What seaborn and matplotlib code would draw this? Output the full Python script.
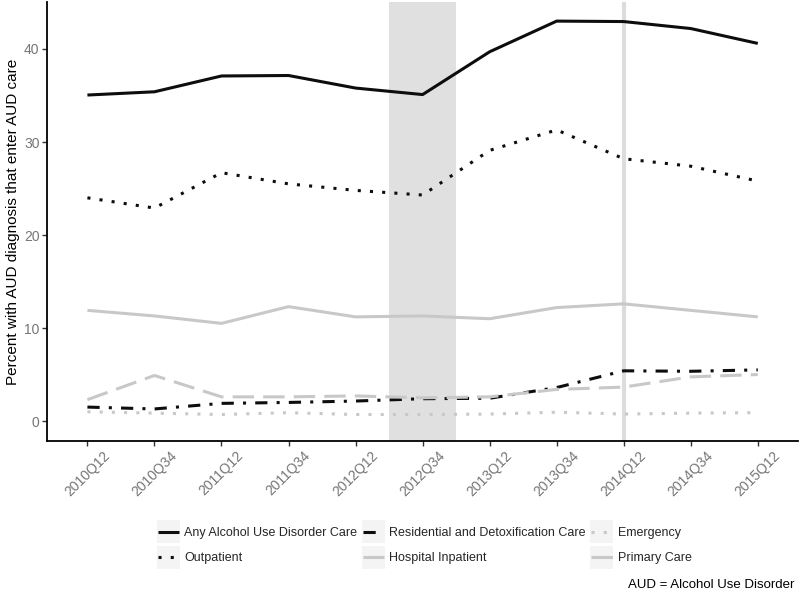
import numpy as np
import pandas as pd
import matplotlib
matplotlib.use("Agg")
import matplotlib.pyplot as plt
from matplotlib.patches import Rectangle
import seaborn as sns

quarters = ["2010Q12", "2010Q34", "2011Q12", "2011Q34", "2012Q12", "2012Q34",
            "2013Q12", "2013Q34", "2014Q12", "2014Q34", "2015Q12"]

any_aud = [35.05, 35.4, 37.1, 37.15, 35.8, 35.1, 39.7, 43.0, 42.95, 42.2, 40.6]
outpatient = [24.0, 22.9, 26.7, 25.5, 24.8, 24.3, 29.1, 31.3, 28.2, 27.4, 25.8]
residential = [1.5, 1.3, 1.9, 2.0, 2.15, 2.4, 2.45, 3.6, 5.4, 5.35, 5.5]
inpatient = [11.9, 11.3, 10.5, 12.3, 11.2, 11.3, 11.0, 12.2, 12.6, 11.9, 11.2]
emergency = [1.0, 0.85, 0.7, 0.9, 0.7, 0.7, 0.75, 0.95, 0.75, 0.85, 0.9]
primary = [2.3, 4.9, 2.6, 2.6, 2.7, 2.5, 2.6, 3.4, 3.65, 4.75, 5.0]

series_names = ["Any Alcohol Use Disorder Care", "Outpatient",
                "Residential and Detoxification Care", "Hospital Inpatient",
                "Emergency", "Primary Care"]
series_values = [any_aud, outpatient, residential, inpatient, emergency, primary]

shade_quarter = "2012Q34"
vline_quarter = "2014Q12"

rows = []
for name, vals in zip(series_names, series_values):
    for i, (q, v) in enumerate(zip(quarters, vals)):
        rows.append({"pos": i, "quarter": q, "value": v, "series": name})
df = pd.DataFrame(rows)

sns.set_theme(style="white")
plt.rcParams["font.family"] = ["Liberation Sans", "DejaVu Sans"]

palette = {
    "Any Alcohol Use Disorder Care": "#0d0d0d",
    "Outpatient": "#0d0d0d",
    "Residential and Detoxification Care": "#0d0d0d",
    "Hospital Inpatient": "#c8c8c8",
    "Emergency": "#c8c8c8",
    "Primary Care": "#c8c8c8",
}
dashes = {
    "Any Alcohol Use Disorder Care": "",
    "Outpatient": (1, 3),
    "Residential and Detoxification Care": (4, 3, 1, 3),
    "Hospital Inpatient": "",
    "Emergency": (1, 3),
    "Primary Care": (7, 3),
}

fig = plt.figure(figsize=(8.0, 5.96), dpi=100)
ax = fig.add_axes([0.059, 0.26, 0.9385, 0.7366])

si = quarters.index(shade_quarter)
ax.axvspan(si - 0.5, si + 0.5, color="#e0e0e0", lw=0, zorder=0)
vi = quarters.index(vline_quarter)
ax.axvline(vi, color="#dcdcdc", lw=3, zorder=0.5)

sns.lineplot(data=df, x="pos", y="value", hue="series", style="series",
             hue_order=series_names, style_order=series_names,
             palette=palette, dashes=dashes, lw=2.2, ax=ax, legend=True,
             sort=False)
for ln in ax.lines:
    ln.set_dash_capstyle("butt")
    ln.set_solid_capstyle("butt")

ax.set_xlim(-0.6, len(quarters) - 1 + 0.6)
ax.set_ylim(-2.15, 45.05)
ax.set_xticks(range(len(quarters)))
ax.set_xticklabels(quarters, rotation=45, ha="center", va="top",
                   fontsize=10, color="#757575")
ax.set_yticks([0, 10, 20, 30, 40])
ax.set_yticklabels(["0", "10", "20", "30", "40"], fontsize=10, color="#757575")
ax.tick_params(axis="both", which="both", length=3.5, width=1, color="#333333",
               bottom=True, left=True, pad=2)
ax.set_xlabel("")
ax.set_ylabel("Percent with AUD diagnosis that enter AUD care", fontsize=11,
              color="#000000", labelpad=3)
for s in ["top", "right"]:
    ax.spines[s].set_visible(False)
for s in ["left", "bottom"]:
    ax.spines[s].set_color("#000000")
    ax.spines[s].set_linewidth(1.3)

handles, labels = ax.get_legend_handles_labels()
ax.get_legend().remove()
leg = fig.legend(handles, labels, loc="center", ncol=3,
                 bbox_to_anchor=(0.531, 0.084), frameon=False, fontsize=9,
                 handlelength=1.7, columnspacing=0.45, handletextpad=0.4,
                 labelspacing=1.05)
fig.text(0.993, 0.008, "AUD = Alcohol Use Disorder", ha="right", va="bottom",
         fontsize=9.5, color="#000000")

# light grey key backgrounds, like ggplot legend keys
fig.canvas.draw()
renderer = fig.canvas.get_renderer()
for h in leg.legend_handles:
    bb = h.get_window_extent(renderer)
    cx = (bb.x0 + bb.x1) / 2
    cy = (bb.y0 + bb.y1) / 2
    w = 23
    x0, y0 = fig.transFigure.inverted().transform((cx - w / 2, cy - w / 2))
    x1, y1 = fig.transFigure.inverted().transform((cx + w / 2, cy + w / 2))
    fig.patches.append(Rectangle((x0, y0), x1 - x0, y1 - y0,
                                 transform=fig.transFigure, facecolor="#f4f4f4",
                                 edgecolor="none", zorder=-1))

fig.savefig("out.png", dpi=100)
